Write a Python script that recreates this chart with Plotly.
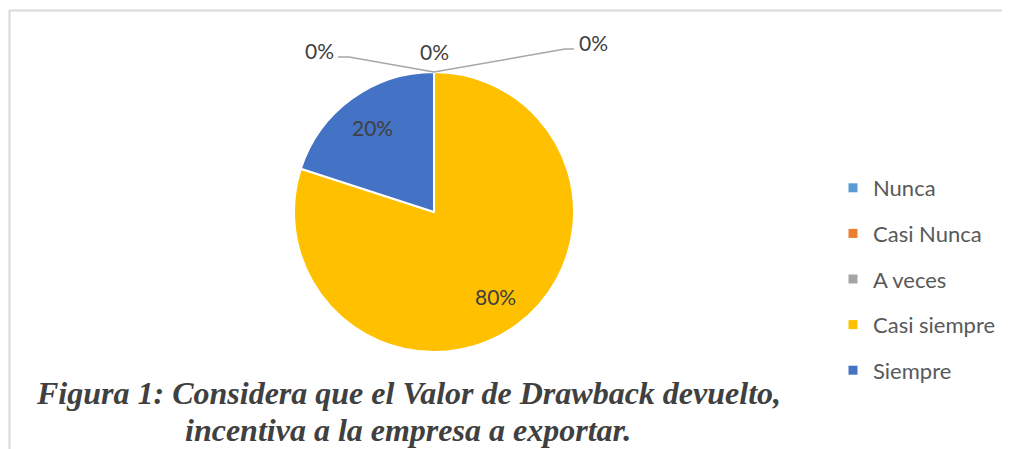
import math
import plotly.graph_objects as go

labels = ['Nunca', 'Casi Nunca', 'A veces', 'Casi siempre', 'Siempre']
values = [0, 0, 0, 80, 20]
colors = ['#5B9BD5', '#ED7D31', '#A5A5A5', '#FFC000', '#4472C4']
caption_lines = [
    'Figura 1: Considera que el Valor de Drawback devuelto,',
    'incentiva a la empresa a exportar.',
]

# the page body has an 8px margin, so the figure is drawn 8px in
OFF = 8
W, H = 1010 - OFF, 449 - OFF
total = sum(values)


def px(x):
    return (x - OFF) / W


def py(y):
    return 1 - (y - OFF) / H


# pie centre and radius in reference pixels
cx, cy, R = 434, 212, 140

fig = go.Figure()

# 12 o'clock start, clockwise like Excel
fig.add_trace(go.Pie(
    labels=labels,
    values=values,
    sort=False,
    direction='clockwise',
    rotation=0,
    marker=dict(colors=colors, line=dict(color='white', width=2)),
    textinfo='none',
    domain=dict(x=[px(cx - R), px(cx + R)], y=[py(cy + R), py(cy - R)]),
    showlegend=False,
    hoverinfo='label+percent',
))

# inside labels for non-zero slices, placed at 3/4 of the radius
label_font = dict(family='Lato', size=21, color='#404040')
cum = 0
for v in values:
    if v > 0:
        a = 2 * math.pi * (cum + v / 2) / total
        fig.add_annotation(
            x=px(cx + 0.75 * R * math.sin(a)), y=py(cy - 0.75 * R * math.cos(a)),
            xref='paper', yref='paper', showarrow=False,
            xanchor='center', yanchor='middle',
            text=f'{v / total:.0%}', font=label_font,
        )
    cum += v

# legend entries (dummy traces so the spacing can be opened up)
for lab, col in zip(labels, colors):
    fig.add_trace(go.Scatter(
        x=[None], y=[None],
        mode='markers',
        marker=dict(symbol='square', size=9, color=col),
        name=lab,
        legendgroup=lab,
    ))

# labels for the zero slices with leader lines
zero_pos = [(319, 50), (434, 52), (593, 43)]
zero_vals = [v for v in values if v == 0]
for (x, y), v in zip(zero_pos, zero_vals):
    fig.add_annotation(
        x=px(x), y=py(y), xref='paper', yref='paper',
        xanchor='center', yanchor='middle',
        text=f'{v / total:.0%}', showarrow=False,
        font=label_font,
    )

leader = dict(color='#A6A6A6', width=1.5)
fig.add_shape(type='path', xref='paper', yref='paper',
              path=f'M {px(434)} {py(72)} L {px(349)} {py(57)} L {px(338)} {py(57)}',
              line=leader)
fig.add_shape(type='path', xref='paper', yref='paper',
              path=f'M {px(434)} {py(72)} L {px(565)} {py(49)} L {px(574)} {py(49)}',
              line=leader)

# chart area frame (top and left edges visible)
frame = dict(color='#D9D9D9', width=2)
fig.add_shape(type='line', xref='paper', yref='paper',
              x0=px(9), x1=1, y0=py(10.5), y1=py(10.5), line=frame)
fig.add_shape(type='line', xref='paper', yref='paper',
              x0=px(9.5), x1=px(9.5), y0=0, y1=py(10), line=frame)

# caption, one annotation per line (baselines 403 and 440)
for line, base in zip(caption_lines, [405, 442]):
    fig.add_annotation(
        x=px(408), y=py(base + 8), xref='paper', yref='paper',
        xanchor='center', yanchor='bottom',
        text=f'<b><i>{line}</i></b>', showarrow=False,
        font=dict(family='Liberation Serif', size=32, color='#404040'),
    )

fig.update_layout(
    width=W, height=H,
    margin=dict(l=0, r=0, t=0, b=0),
    paper_bgcolor='white',
    plot_bgcolor='white',
    xaxis=dict(visible=False),
    yaxis=dict(visible=False),
    legend=dict(
        x=px(833), y=py(167), xanchor='left', yanchor='top',
        font=dict(family='Lato', size=22, color='#595959'),
        tracegroupgap=14,
        itemwidth=30,
        bgcolor='rgba(0,0,0,0)',
    ),
)

fig.write_html('out.html')
